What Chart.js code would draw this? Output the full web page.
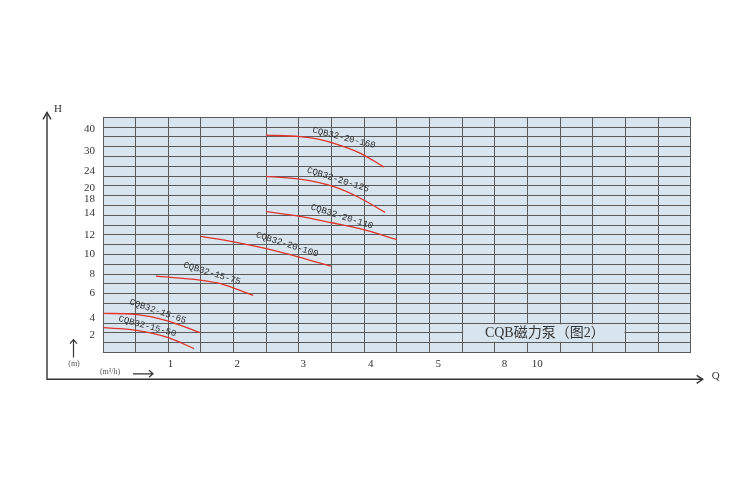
<!DOCTYPE html>
<html>
<head>
<meta charset="utf-8">
<script src="https://cdn.jsdelivr.net/npm/chart.js@4"></script>
<style>
  body { margin: 0; background: #fff; }
</style>
</head>
<body>
<canvas id="myChart" width="750" height="500"></canvas>
<script>
// grid is 18 columns x 24 rows, curves are read in grid units
var hLabels = ['2', '4', '6', '8', '10', '12', '14', '18', '20', '24', '30', '40'];
var hTickPos = [1.76, 3.56, 6.03, 8.04, 10.07, 12.03, 14.27, 15.7, 16.8, 18.47, 20.6, 22.8];
var qLabels = ['1', '2', '3', '4', '5', '8', '10'];
var qTickPos = [2.07, 4.11, 6.13, 8.2, 10.27, 12.3, 13.3];

var models = ['CQB32-15-50', 'CQB32-15-65', 'CQB32-15-75', 'CQB32-20-100', 'CQB32-20-110', 'CQB32-20-125', 'CQB32-20-160'];
var curveQ = [
    [0, 0.98, 2.0, 2.79],
    [0, 0.98, 2.0, 2.97],
    [1.62, 2.97, 3.5, 3.99, 4.6],
    [2.99, 4.0, 5.0, 6.0, 6.98],
    [4.99, 6.03, 7.05, 7.87, 9.0],
    [4.99, 6.03, 7.05, 7.87, 8.64],
    [4.99, 6.03, 6.55, 7.05, 7.87, 8.61]
];
var curveH = [
    [2.54, 2.3, 1.53, 0.41],
    [4.0, 3.9, 3.22, 2.03],
    [7.79, 7.39, 7.1, 6.61, 5.83],
    [11.86, 11.3, 10.6, 9.75, 8.81],
    [14.37, 13.9, 13.22, 12.65, 11.53],
    [17.97, 17.7, 16.95, 15.77, 14.3],
    [22.18, 22.03, 21.8, 21.36, 20.35, 18.92]
];
var title = 'CQB磁力泵（图2）';

var datasets = [];
for (var i in models) {
    var pts = [];
    for (var j in curveQ[i]) {
        pts.push({ x: curveQ[i][j], y: curveH[i][j] });
    }
    datasets.push({
        label: models[i],
        data: pts,
        borderColor: '#e0342c',
        borderWidth: 1.3,
        pointRadius: 0,
        cubicInterpolationMode: 'monotone',
        fill: false
    });
}

// label placement in grid units + rotation in degrees
var curveTags = [
    [1.36, 2.68, 15], [1.68, 4.2, 19], [3.34, 8.07, 17], [5.64, 11.02, 17.8],
    [7.32, 13.87, 17.5], [7.2, 17.63, 17.7], [7.38, 21.9, 14]
];

var decor = {
    id: 'decor',
    beforeDraw: function(chart) {
        var c = chart.ctx, a = chart.chartArea;
        c.save();
        c.fillStyle = '#d9e5ee';
        c.fillRect(a.left, a.top, a.right - a.left, a.bottom - a.top);
        c.restore();
    },
    beforeDatasetsDraw: function(chart) {
        var c = chart.ctx, x = chart.scales.x, y = chart.scales.y;
        var x0 = x.getPixelForValue(11), x1 = x.getPixelForValue(16);
        var y0 = y.getPixelForValue(3), y1 = y.getPixelForValue(1);
        c.save();
        c.fillStyle = '#d9e5ee';
        c.fillRect(x0 + 1, y0 + 1, x1 - x0 - 2, y1 - y0 - 2);
        c.fillStyle = '#333';
        c.font = '14px "Liberation Serif", "Noto Sans CJK SC"';
        c.textAlign = 'center';
        c.textBaseline = 'middle';
        c.fillText(title, (x0 + x1) / 2 + 1, (y0 + y1) / 2);
        c.restore();
    },
    afterDraw: function(chart) {
        var c = chart.ctx, a = chart.chartArea, x = chart.scales.x, y = chart.scales.y;
        c.save();
        // curve names
        c.fillStyle = '#2e2e2e';
        c.font = '9px "Liberation Mono"';
        c.textAlign = 'center';
        c.textBaseline = 'middle';
        for (var i in curveTags) {
            var t = curveTags[i];
            c.save();
            c.translate(x.getPixelForValue(t[0]), y.getPixelForValue(t[1]));
            c.rotate(t[2] * Math.PI / 180);
            c.fillText(models[i], 0, 0);
            c.restore();
        }
        // outer axes with arrows
        var ox = a.left - 56, oy = a.bottom + 26.7;
        c.strokeStyle = '#333';
        c.lineWidth = 1.4;
        c.beginPath();
        c.moveTo(ox, a.top - 5);
        c.lineTo(ox, oy);
        c.lineTo(a.right + 12, oy);
        c.stroke();
        c.beginPath();
        c.moveTo(ox - 4, a.top + 2);
        c.lineTo(ox, a.top - 5);
        c.lineTo(ox + 4, a.top + 2);
        c.moveTo(a.right + 6, oy - 4);
        c.lineTo(a.right + 12, oy);
        c.lineTo(a.right + 6, oy + 4);
        c.stroke();
        // small unit arrows
        c.lineWidth = 1.2;
        c.beginPath();
        c.moveTo(ox + 26.5, a.bottom + 5);
        c.lineTo(ox + 26.5, a.bottom - 13);
        c.moveTo(ox + 23, a.bottom - 9);
        c.lineTo(ox + 26.5, a.bottom - 13);
        c.lineTo(ox + 30, a.bottom - 9);
        c.moveTo(a.left + 30, oy - 5.5);
        c.lineTo(a.left + 50, oy - 5.5);
        c.moveTo(a.left + 46, oy - 9);
        c.lineTo(a.left + 50, oy - 5.5);
        c.lineTo(a.left + 46, oy - 2);
        c.stroke();
        c.fillStyle = '#333';
        c.font = '11px "Liberation Serif"';
        c.textAlign = 'center';
        c.textBaseline = 'middle';
        c.fillText('H', ox + 11, a.top - 8);
        c.fillText('Q', a.right + 25, oy - 3);
        c.font = '8px "Liberation Serif"';
        c.fillStyle = '#555';
        c.fillText('(m)', ox + 27, a.bottom + 11);
        c.fillText('(m³/h)', a.left + 7, oy - 7);
        c.restore();
    }
};

var ctx = document.getElementById('myChart');
var myChart = new Chart(ctx, {
    type: 'line',
    data: { datasets: datasets },
    options: {
        responsive: false,
        animation: false,
        layout: { padding: { left: 47, right: 59.3, top: 117.3, bottom: 120.7 } },
        plugins: { legend: { display: false }, tooltip: { enabled: false } },
        scales: {
            x: {
                type: 'linear', min: 0, max: 18,
                ticks: { display: false, stepSize: 1 },
                grid: { color: '#5a5a5a', lineWidth: 1, drawTicks: false },
                border: { display: false },
                afterFit: function(s) { s.height = 0; }
            },
            xQ: {
                type: 'linear', position: 'bottom', min: 0, max: 18,
                afterBuildTicks: function(s) { s.ticks = qTickPos.map(function(v) { return { value: v }; }); },
                ticks: {
                    autoSkip: false, maxRotation: 0, padding: 5, color: '#333',
                    font: { family: 'Liberation Serif', size: 11 },
                    callback: function(v, i) { return qLabels[i]; }
                },
                grid: { display: false, drawTicks: false },
                border: { display: false },
                afterFit: function(s) { s.height = 26.7; }
            },
            y: {
                type: 'linear', min: 0, max: 24,
                ticks: { display: false, stepSize: 1 },
                grid: { color: '#5a5a5a', lineWidth: 1, drawTicks: false },
                border: { display: false },
                afterFit: function(s) { s.width = 0; }
            },
            yH: {
                type: 'linear', position: 'left', min: 0, max: 24,
                afterBuildTicks: function(s) { s.ticks = hTickPos.map(function(v) { return { value: v }; }); },
                ticks: {
                    autoSkip: false, padding: 8, color: '#333',
                    font: { family: 'Liberation Serif', size: 11 },
                    callback: function(v, i) { return hLabels[i]; }
                },
                grid: { display: false, drawTicks: false },
                border: { display: false },
                afterFit: function(s) { s.width = 56; }
            }
        }
    },
    plugins: [decor]
});
</script>
</body>
</html>
